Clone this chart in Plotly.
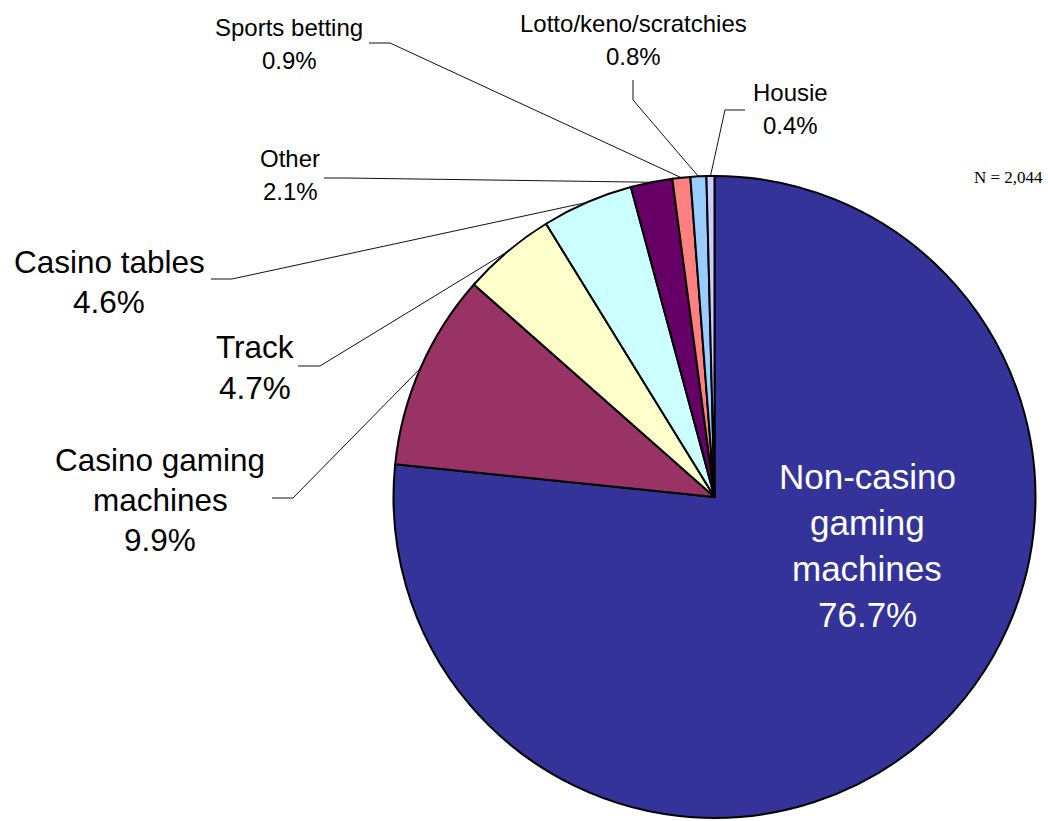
import math
import plotly.graph_objects as go

# Gambling activity shares (percent of respondents)
categories = [
    "Non-casino gaming machines",
    "Casino gaming machines",
    "Track",
    "Casino tables",
    "Other",
    "Sports betting",
    "Lotto/keno/scratchies",
    "Housie",
]
shares = [76.7, 9.9, 4.7, 4.6, 2.1, 0.9, 0.8, 0.4]
slice_colors = ["#333399", "#993366", "#FFFFCC", "#CCFFFF",
                "#660066", "#FF8080", "#99CCFF", "#CCCCFF"]
sample_note = "N = 2,044"

W, H = 1048, 821
CX, CY, R = 714.5, 497.0, 321.0   # pie centre and radius in pixels

SANS = "Liberation Sans, Arial, sans-serif"
SERIF = "Liberation Serif, Times New Roman, serif"

# Label placement: centre x, centre y of first line, line step, font size,
# colour, words per line of the name, elbow points of the leader line.
label_layout = {
    "Non-casino gaming machines": dict(x=867, y=476, step=46.3, size=35, color="white",
                                       words=[1, 1, 1], leader=None),
    "Casino gaming machines": dict(x=160, y=460, step=40, size=31.5, color="black",
                                   words=[2, 1], leader=[(272, 498), (293, 498)]),
    "Track": dict(x=255, y=347, step=41, size=31.5, color="black",
                  words=[1], leader=[(298, 366), (320, 366)]),
    "Casino tables": dict(x=109, y=262, step=40, size=31.5, color="black",
                          words=[2], leader=[(211, 279), (232, 279)]),
    "Other": dict(x=290, y=158, step=33, size=24, color="black",
                  words=[1], leader=[(324, 178), (345, 178)]),
    "Sports betting": dict(x=289, y=28, step=32, size=24, color="black",
                           words=[2], leader=[(369, 43), (390, 43)]),
    "Lotto/keno/scratchies": dict(x=633, y=24, step=32, size=24, color="black",
                                  words=[1], leader=[(633, 80), (633, 100)]),
    "Housie": dict(x=790, y=92, step=33, size=24, color="black",
                   words=[1], leader=[(745, 110), (725, 110)]),
}


def px(x):
    return x / W


def py(y):
    return 1 - y / H


fig = go.Figure(go.Pie(
    labels=categories,
    values=shares,
    sort=False,
    direction="clockwise",
    rotation=0,
    marker=dict(colors=slice_colors, line=dict(color="black", width=2)),
    textinfo="none",
    hoverinfo="label+percent",
    showlegend=False,
    domain=dict(x=[px(CX - R), px(CX + R)], y=[py(CY + R), py(CY - R)]),
))

annotations = []
shapes = []
total = sum(shares)
cum = 0.0
for name, val in zip(categories, shares):
    spec = label_layout[name]
    # split the name into its display lines
    words = name.split(" ")
    lines, i = [], 0
    for n in spec["words"]:
        lines.append(" ".join(words[i:i + n]))
        i += n
    lines.append(f"{val:.1f}%")
    for k, line in enumerate(lines):
        annotations.append(dict(
            x=px(spec["x"]), y=py(spec["y"] + k * spec["step"]),
            xref="paper", yref="paper", xanchor="center", yanchor="middle",
            text=line, showarrow=False,
            font=dict(family=SANS, size=spec["size"], color=spec["color"]),
        ))
    # leader line from the label to the mid-angle point on the slice rim
    theta = 2 * math.pi * (cum + val / 2) / total
    edge = (CX + R * math.sin(theta), CY - R * math.cos(theta))
    if spec["leader"]:
        pts = spec["leader"] + [edge]
        path = "M " + " L ".join(f"{px(a):.5f},{py(b):.5f}" for a, b in pts)
        shapes.append(dict(type="path", xref="paper", yref="paper", path=path,
                           line=dict(color="#111111", width=1)))
    cum += val

annotations.append(dict(
    x=px(1045), y=py(177), xref="paper", yref="paper",
    xanchor="right", yanchor="middle", text=sample_note, showarrow=False,
    font=dict(family=SERIF, size=17, color="black"),
))

fig.update_layout(
    width=W, height=H,
    margin=dict(l=0, r=0, t=0, b=0),
    paper_bgcolor="white", plot_bgcolor="white",
    annotations=annotations, shapes=shapes,
)

fig.write_html("out.html")
